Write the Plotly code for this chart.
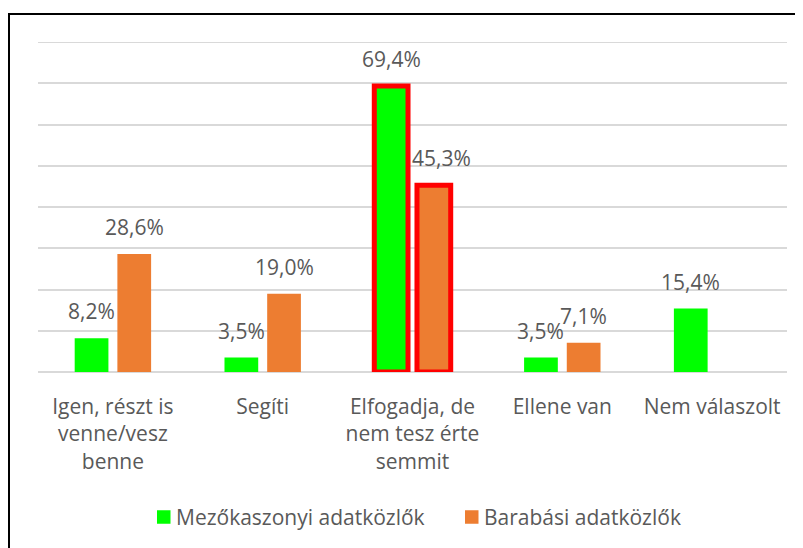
import plotly.graph_objects as go

categories = [
    "Igen, részt is<br>venne/vesz<br>benne",
    "Segíti",
    "Elfogadja, de<br>nem tesz érte<br>semmit",
    "Ellene van",
    "Nem válaszolt",
]
series_names = ["Mezőkaszonyi adatközlők", "Barabási adatközlők"]
mezokaszonyi = [8.2, 3.5, 69.4, 3.5, 15.4]
barabasi = [28.6, 19.0, 45.3, 7.1, None]
highlighted = [False, False, True, False, False]
y_max = 80

colors = ["#00FF00", "#ED7D31"]
text_color = "#595959"
grid_color = "#D9D9D9"
FONT = "Open Sans"
FS = 21

fig = go.Figure()
for name, vals, col in zip(series_names, [mezokaszonyi, barabasi], colors):
    fig.add_trace(go.Bar(
        x=categories, y=vals, name=name,
        marker=dict(
            color=col,
            line=dict(color="#FF0000", width=[5 if h else 0 for h in highlighted]),
        ),
        hoverinfo="skip", showlegend=False,
    ))

# data labels
label_nudge = {(1, 2): 7}
annotations = []
for si, vals in enumerate([mezokaszonyi, barabasi]):
    for ci, v in enumerate(vals):
        if v is None:
            continue
        annotations.append(dict(
            x=categories[ci], y=v, xref="x", yref="y",
            text=f"{v:.1f}".replace(".", ",") + "%",
            showarrow=False, yanchor="bottom",
            xshift=(-21.5 if si == 0 else 21.5) + label_nudge.get((si, ci), 0),
            yshift=11,
            font=dict(family=FONT, size=FS, color=text_color),
        ))

# page body has an 8px margin; work in page pixels and offset
OFF = 8
W, H = 803 - OFF, 548 - OFF
L, R, T, B = 38 - OFF, 16, 42 - OFF, 176
pw, ph = W - L - R, H - T - B

def px_x(x):
    return (x - OFF - L) / pw

def px_y(y):
    return (H - B - (y - OFF)) / ph

shapes = [
    dict(type="path", xref="paper", yref="paper",
         path=f"M {px_x(9)},{px_y(570)} L {px_x(9)},{px_y(14)} L {px_x(830)},{px_y(14)}",
         line=dict(color="black", width=2)),
    # top gridline (at the range edge)
    dict(type="line", xref="paper", yref="y", x0=0, x1=1, y0=y_max, y1=y_max,
         line=dict(color=grid_color, width=1.5), layer="below"),
]

# custom legend (square + label)
legend_x = [157, 465]
legend_cy = 517
for lx, name, col in zip(legend_x, series_names, colors):
    shapes.append(dict(type="rect", xref="paper", yref="paper",
                       x0=px_x(lx), x1=px_x(lx + 13.5),
                       y0=px_y(legend_cy + 6.75), y1=px_y(legend_cy - 6.75),
                       fillcolor=col, line=dict(width=0)))
    annotations.append(dict(x=px_x(lx + 17), y=px_y(legend_cy), xref="paper", yref="paper",
                            text=name, showarrow=False, xanchor="left", yanchor="middle",
                            font=dict(family=FONT, size=FS, color=text_color)))

fig.update_layout(
    width=W, height=H,
    margin=dict(l=L, r=R, t=T, b=B, autoexpand=False),
    paper_bgcolor="white", plot_bgcolor="white",
    font=dict(family=FONT, size=FS, color=text_color),
    barmode="group", bargap=0.43, bargroupgap=0.21,
    showlegend=False,
    annotations=annotations,
    shapes=shapes,
)
fig.update_xaxes(showline=False, ticks="", tickfont=dict(family=FONT, size=FS, color=text_color),
                 showgrid=False, ticklabelstandoff=20, automargin=False)
fig.update_yaxes(range=[0, y_max + 0.05], tick0=0, dtick=10, showticklabels=False, showgrid=True,
                 gridcolor=grid_color, gridwidth=1.5, zeroline=True, zerolinecolor=grid_color,
                 zerolinewidth=1.5, showline=False, ticks="", automargin=False)

fig.write_html("out.html")
